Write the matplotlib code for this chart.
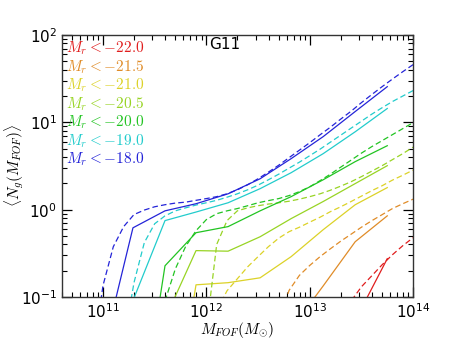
import numpy as np
import matplotlib
matplotlib.use('Agg')
import matplotlib.pyplot as plt

# magnitude thresholds, brightest first
mag_labels = ['-22.0', '-21.5', '-21.0', '-20.5', '-20.0', '-19.0', '-18.0']
colors = ['#e01e1e', '#e08c28', '#dcd228', '#98d424', '#22c422', '#22cccc', '#2424d8']

# measured mean occupation (solid), log10 halo mass bins
logm_bins = [10.98, 11.29, 11.60, 11.90, 12.21, 12.52, 12.82, 13.13, 13.44, 13.75]
nan = np.nan
ng_m220 = [nan, nan, nan, nan, nan, nan, nan, nan, 0.054, 0.275]
ng_m215 = [nan, nan, nan, nan, nan, nan, 0.043, 0.134, 0.43, 0.85]
ng_m210 = [nan, nan, 0.001, 0.138, 0.146, 0.166, 0.29, 0.59, 1.14, 1.79]
ng_m205 = [nan, 0.001, 0.056, 0.34, 0.335, 0.49, 0.79, 1.24, 1.99, 3.19]
ng_m200 = [nan, 0.001, 0.228, 0.545, 0.64, 0.97, 1.41, 2.2, 3.55, 5.4]
ng_m190 = [0.005, 0.091, 0.75, 0.94, 1.2, 1.74, 2.65, 4.38, 7.8, 14.4]
ng_m180 = [0.019, 0.62, 0.97, 1.17, 1.52, 2.26, 3.84, 6.86, 13.3, 25.6]

# model curves (dashed), log10 halo mass 10.8 .. 14.0 in 0.1 steps
logm_fine = [10.8, 10.9, 11.0, 11.1, 11.2, 11.3, 11.4, 11.5, 11.6, 11.7, 11.8,
             11.9, 12.0, 12.1, 12.2, 12.3, 12.4, 12.5, 12.6, 12.7, 12.8, 12.9,
             13.0, 13.1, 13.2, 13.3, 13.4, 13.5, 13.6, 13.7, 13.8, 13.9, 14.0]
fit_m220 = [nan] * 25 + [0.03, 0.09, 0.131, 0.175, 0.234, 0.305, 0.387, 0.478]
fit_m215 = [nan] * 18 + [0.02, 0.054, 0.119, 0.177, 0.23, 0.29, 0.357, 0.436,
                         0.524, 0.63, 0.748, 0.877, 1.03, 1.17, 1.32]
fit_m210 = [nan] * 12 + [0.03, 0.07, 0.118, 0.162, 0.222, 0.29, 0.377, 0.472,
                         0.56, 0.63, 0.72, 0.82, 0.95, 1.08, 1.24, 1.43, 1.65,
                         1.88, 2.18, 2.48, 2.84]
fit_m205 = [nan] * 12 + [0.041, 0.40, 0.75, 0.97, 1.05, 1.11, 1.16, 1.2, 1.25,
                         1.32, 1.41, 1.52, 1.67, 1.86, 2.09, 2.39, 2.76, 3.19,
                         3.74, 4.38, 5.2]
fit_m200 = [nan] * 7 + [0.02, 0.09, 0.21, 0.38, 0.575, 0.77, 0.9, 0.97, 1.03,
                        1.11, 1.2, 1.27, 1.34, 1.45, 1.61, 1.83, 2.15, 2.55,
                        3.07, 3.69, 4.44, 5.27, 6.17, 7.23, 8.47, 9.93]
fit_m190 = [nan] * 4 + [0.03, 0.146, 0.42, 0.69, 0.85, 0.97, 1.05, 1.13, 1.2,
                        1.28, 1.39, 1.52, 1.69, 1.91, 2.2, 2.55, 2.99, 3.5,
                        4.15, 4.93, 5.93, 7.13, 8.58, 10.3, 12.4, 14.7, 17.3,
                        20.0, 23.1]
fit_m180 = [nan, 0.02, 0.135, 0.377, 0.64, 0.88, 0.99, 1.08, 1.14, 1.19, 1.22,
            1.28, 1.34, 1.41, 1.52, 1.69, 1.93, 2.26, 2.69, 3.23, 3.94, 4.8,
            5.85, 7.2, 8.8, 10.9, 13.4, 16.8, 20.8, 25.6, 31.3, 38.0, 45.8]

measured = [ng_m220, ng_m215, ng_m210, ng_m205, ng_m200, ng_m190, ng_m180]
fits = [fit_m220, fit_m215, fit_m210, fit_m205, fit_m200, fit_m190, fit_m180]

fig = plt.figure(figsize=(4.58, 3.43), dpi=100)
ax = fig.add_axes([0.135, 0.134, 0.767, 0.764])

m_bins = 10 ** np.array(logm_bins)
m_fine = 10 ** np.array(logm_fine)
for lab, c, ng, fit in zip(mag_labels, colors, measured, fits):
    ax.plot(m_bins, ng, '-', color=c, lw=0.9, label=r'$M_r < ' + lab + '$')
    ax.plot(m_fine, fit, '--', color=c, lw=0.9, dashes=(4.5, 2.5))

ax.set_xscale('log')
ax.set_yscale('log')
ax.set_xlim(4e10, 1e14)
ax.set_ylim(0.1, 100)

ax.tick_params(which='both', direction='in', top=True, right=True,
               labelsize=11)
ax.tick_params(which='major', length=7, width=0.9)
ax.tick_params(which='minor', length=3.5, width=0.8)
for s in ax.spines.values():
    s.set_linewidth(1.0)
    s.set_color('#333333')

leg = ax.legend(loc='upper left', handlelength=0, handletextpad=0,
                frameon=False, labelcolor='linecolor',
                labelspacing=0.06, borderaxespad=0.3, borderpad=0.0,
                prop={'math_fontfamily': 'cm', 'size': 11})

ax.text(0.464, 0.962, 'G11', transform=ax.transAxes, ha='center',
        va='center', fontsize=11)

ax.set_xlabel(r'$M_{FOF}(M_{\odot})$', fontsize=11, math_fontfamily='cm')
ax.set_ylabel(r'$\langle N_g(M_{FOF})\rangle$', fontsize=11,
              math_fontfamily='cm')
ax.xaxis.set_label_coords(0.5, -0.088)
ax.yaxis.set_label_coords(-0.103, 0.5)

fig.savefig('out.png', dpi=100)
